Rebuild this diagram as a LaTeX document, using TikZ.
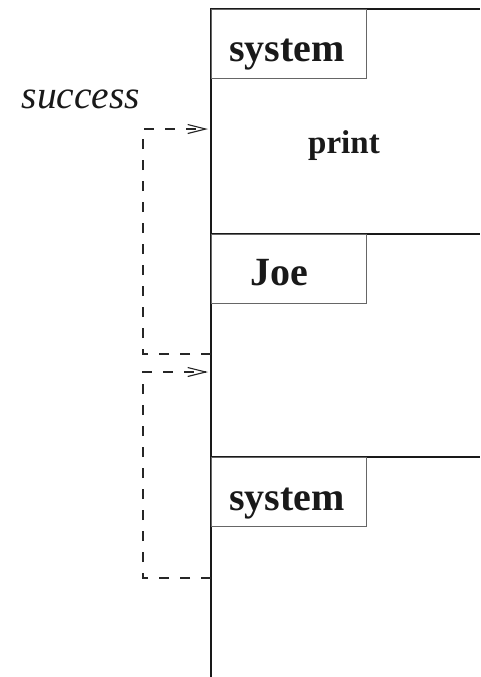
\documentclass[tikz,border=0pt]{standalone}
\usepackage{fontspec}
\setmainfont{Liberation Serif}
\usetikzlibrary{arrows.meta}
\begin{document}
\begin{tikzpicture}[x=1pt,y=-1pt,
  life/.style={line width=1.4pt, draw=black!90},
  namebox/.style={draw=black!60, line width=1.1pt, anchor=north west, minimum width=155pt, minimum height=69pt, inner sep=0pt},
  nametext/.style={anchor=base, font=\fontsize{40}{44}\selectfont\bfseries, text=black!90},
  msgtext/.style={anchor=base, font=\fontsize{33}{36}\selectfont\bfseries, text=black!90},
  labtext/.style={anchor=base, font=\fontsize{39.5}{44}\selectfont\itshape, text=black!90},
  retline/.style={draw=black!85, line width=1.1pt, dash pattern=on 10pt off 11pt, -{Straight Barb[length=18pt,width=9pt,line width=1.1pt]}}]
\useasboundingbox (0,0) rectangle (480,677);
% lifeline
\coordinate (top) at (211,8);
\coordinate (bot) at (211,677);
\draw[life] (top) -- (bot);
% horizontal frame lines
\coordinate (h1a) at (211,9);   \coordinate (h1b) at (480,9);
\coordinate (h2a) at (211,234); \coordinate (h2b) at (480,234);
\coordinate (h3a) at (211,457); \coordinate (h3b) at (480,457);
\draw[life] (h1a) -- (h1b);
\draw[life] (h2a) -- (h2b);
\draw[life] (h3a) -- (h3b);
% name boxes
\node[namebox] (box1) at (211,9) {};
\node[namebox] (box2) at (211,234) {};
\node[namebox] (box3) at (211,457) {};
\node[nametext] (t1) at (287,62) {system};
\node[nametext] (t2) at (279,285) {Joe};
\node[nametext] (t3) at (287,510) {system};
% message text
\node[msgtext] (print) at (344,153) {print};
\node[labtext] (succ) at (81,108) {success};
% return connectors
\coordinate (s1) at (211,354); \coordinate (k1) at (143,354);
\coordinate (k2) at (143,129); \coordinate (a1) at (208,129);
\draw[retline] (s1) -- (k1) -- (k2) -- (a1);
\coordinate (s2) at (211,578); \coordinate (k3) at (143,578);
\coordinate (k4) at (143,372); \coordinate (a2) at (208,372);
\draw[retline] (s2) -- (k3) -- (k4) -- (a2);
\end{tikzpicture}
\end{document}
